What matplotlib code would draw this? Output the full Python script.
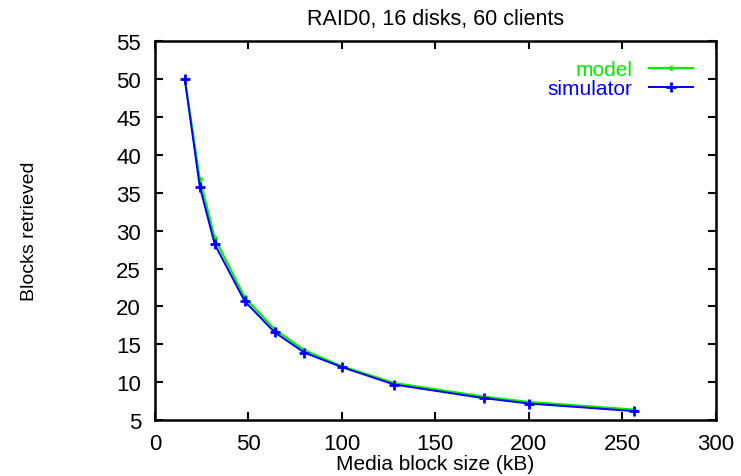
import matplotlib.pyplot as plt

# ===== data =====
block_kb = [16, 24, 32, 48, 64, 80, 100, 128, 176, 200, 256]
model = [50.0, 36.8, 29.0, 21.2, 17.0, 14.2, 12.1, 9.9, 8.1, 7.4, 6.4]
simulator = [50.0, 35.8, 28.2, 20.7, 16.6, 13.9, 12.0, 9.7, 7.9, 7.2, 6.2]
x_ticks = [0, 50, 100, 150, 200, 250, 300]
y_ticks = [5, 10, 15, 20, 25, 30, 35, 40, 45, 50, 55]
# =======================================

plt.rcParams['font.family'] = ['Liberation Sans', 'DejaVu Sans']

fig = plt.figure(figsize=(7.41, 4.77), dpi=100)
ax = fig.add_axes([0.209, 0.117, 0.757, 0.795])

ax.plot(block_kb, model, color='#00ee00', lw=1.6, marker='.', ms=5, label='model')
ax.plot(block_kb, simulator, color='#0000ff', lw=1.4, marker='+', ms=7, mew=2, label='simulator')

ax.set_xlim(0, 300)
ax.set_ylim(5, 55)
ax.set_xticks(x_ticks)
ax.set_yticks(y_ticks)
ax.tick_params(direction='in', length=6, width=1.5, top=True, right=True, labelsize=16)
ax.tick_params(axis='x', pad=9)
ax.tick_params(axis='y', pad=10)
for s in ax.spines.values():
    s.set_linewidth(1.8)

ax.set_title('RAID0, 16 disks, 60 clients', fontsize=15.5, pad=12)
ax.set_xlabel('Media block size (kB)', fontsize=15, labelpad=0)
ax.set_ylabel('Blocks retrieved', fontsize=14, labelpad=56)

ax.legend(loc='upper right', bbox_to_anchor=(1 - 23 / 561, 1 - 19 / 379),
          frameon=False, markerfirst=False, labelcolor='linecolor',
          fontsize=15, handlelength=2.1, borderaxespad=0, borderpad=0,
          labelspacing=0.02, handletextpad=0.8)

fig.savefig('out.png', dpi=100)
